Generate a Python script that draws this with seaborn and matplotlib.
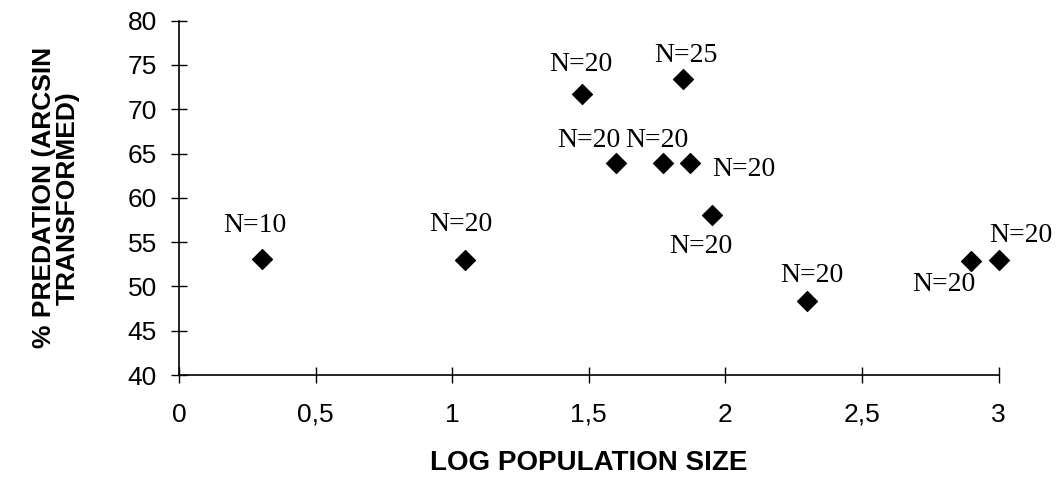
import matplotlib
matplotlib.use("Agg")
import matplotlib.pyplot as plt
from matplotlib.ticker import FuncFormatter
import seaborn as sns
import pandas as pd

# Log10 population size, arcsin-transformed predation (%) and sample size per population
log_size = [0.305, 1.046, 1.475, 1.844, 1.600, 1.773, 1.872, 1.951, 2.298, 2.900, 3.000]
predation = [53.1, 53.0, 71.7, 73.4, 63.9, 63.9, 63.9, 58.1, 48.35, 52.9, 53.0]
n_labels = ["N=10", "N=20", "N=20", "N=25", "N=20", "N=20",
            "N=20", "N=20", "N=20", "N=20", "N=20"]

x_ticks = [0, 0.5, 1, 1.5, 2, 2.5, 3]
y_ticks = [40, 45, 50, 55, 60, 65, 70, 75, 80]

# label placement around each point (pixels: dx, dy of text centre)
label_offsets = [(-7, 36), (-4, 38), (-1, 32), (3, 26), (-27, 25), (-7, 25),
                 (53, -4), (-11, -29), (5, 28), (-27, -21), (22, 27)]

df = pd.DataFrame({"log_size": log_size, "predation": predation, "n": n_labels})

sns.set_style("ticks")
plt.rcParams["font.family"] = ["Liberation Sans", "DejaVu Sans"]
plt.rcParams.update({
    "text.color": "black",
    "axes.labelcolor": "black",
    "xtick.color": "black",
    "ytick.color": "black",
    "xtick.labelcolor": "black",
    "ytick.labelcolor": "black",
})

fig = plt.figure(figsize=(10.59, 4.79), dpi=100)
ax = fig.add_axes([0.169, 0.217, 0.943 - 0.169, 0.957 - 0.217])

sns.scatterplot(data=df, x="log_size", y="predation", ax=ax, marker="D",
                s=105, color="black", edgecolor="black", linewidth=0.8,
                legend=False, clip_on=False, zorder=3)

for x, y, lab, (dx, dy) in zip(log_size, predation, n_labels, label_offsets):
    ax.annotate(lab, (x, y), xytext=(dx, dy - 9), textcoords="offset pixels",
                ha="center", va="baseline", fontsize=20,
                family=["Liberation Serif", "DejaVu Serif"], color="black")

ax.set_xlim(0, 3)
ax.set_ylim(40, 80)
ax.set_xticks(x_ticks)
ax.set_yticks(y_ticks)
ax.xaxis.set_major_formatter(FuncFormatter(lambda v, p: f"{v:g}".replace(".", ",")))
ax.yaxis.set_major_formatter(FuncFormatter(lambda v, p: f"{v:g}"))

ax.tick_params(axis="both", direction="inout", length=12, width=1.0,
               color="black", labelsize=19, labelcolor="black")
ax.tick_params(axis="x", pad=14)
ax.tick_params(axis="y", pad=10)

for side in ("top", "right"):
    ax.spines[side].set_visible(False)
for side in ("left", "bottom"):
    ax.spines[side].set_color("black")
    ax.spines[side].set_linewidth(1.2)

ax.set_xlabel("LOG POPULATION SIZE", fontsize=20, fontweight="bold",
              color="black", labelpad=17)
ax.set_ylabel("% PREDATION (ARCSIN\nTRANSFORMED)", fontsize=19,
              fontweight="bold", color="black", linespacing=1.0, labelpad=34)

fig.savefig("out.png", dpi=100, facecolor="white")
